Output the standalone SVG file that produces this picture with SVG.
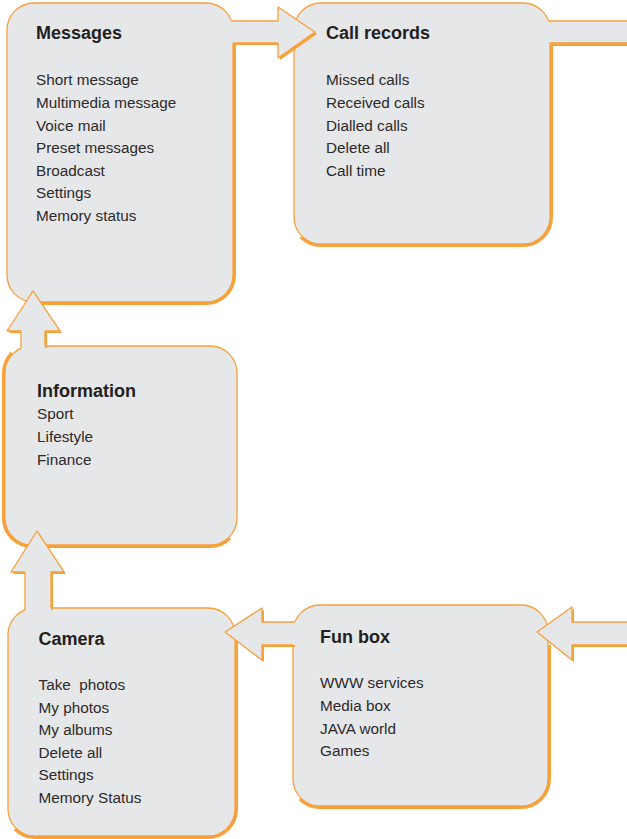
<svg xmlns="http://www.w3.org/2000/svg" width="627" height="839" viewBox="0 0 627 839">
<style>
.box{fill:#e6e7e8;stroke:#f7a13b;stroke-width:1.3}
.sh{fill:none;stroke:#f7a13b;stroke-width:3}
.af{fill:#e6e7e8}
.as{fill:#f7a13b}
.al{fill:none;stroke:#f7a13b;stroke-width:1.3;stroke-linejoin:round}
.t{font-family:"Liberation Sans",Arial,sans-serif;font-weight:bold;font-size:18px;fill:#231f20}
.i{font-family:"Liberation Sans",Arial,sans-serif;font-size:15.3px;fill:#2d2a2b;white-space:pre}
</style>
<rect width="627" height="839" fill="#ffffff"/>
<g id="messages">
<rect class="box" x="7" y="3" width="226" height="299" rx="27"/>
<path class="sh" d="M234.5,43 V275 A28.5,28.5 0 0 1 206,303.5 H34"/>
<text class="t" x="36" y="39.3">Messages</text>
<text class="i" x="36" y="85.3">Short message</text>
<text class="i" x="36" y="107.9">Multimedia message</text>
<text class="i" x="36" y="130.5">Voice mail</text>
<text class="i" x="36" y="153.1">Preset messages</text>
<text class="i" x="36" y="175.7">Broadcast</text>
<text class="i" x="36" y="198.3">Settings</text>
<text class="i" x="36" y="220.9">Memory status</text>
</g>
<g id="call-records">
<rect class="box" x="294" y="3" width="256" height="241" rx="27"/>
<path class="sh" d="M551.5,45 V217 A28.5,28.5 0 0 1 523,245.5 H321 A28.5,28.5 0 0 1 300.85,237.15"/>
<text class="t" x="326" y="39.3">Call records</text>
<text class="i" x="326" y="85.3">Missed calls</text>
<text class="i" x="326" y="107.9">Received calls</text>
<text class="i" x="326" y="130.5">Dialled calls</text>
<text class="i" x="326" y="153.1">Delete all</text>
<text class="i" x="326" y="175.7">Call time</text>
</g>
<g id="information">
<rect class="box" x="5" y="346" width="232" height="199" rx="27"/>
<path class="sh" d="M11.85,352.85 A28.5,28.5 0 0 0 3.5,373 V518 A28.5,28.5 0 0 0 32,546.5 H210 A28.5,28.5 0 0 0 230.15,538.15"/>
<text class="t" x="37" y="396.7">Information</text>
<text class="i" x="37" y="419.3">Sport</text>
<text class="i" x="37" y="441.9">Lifestyle</text>
<text class="i" x="37" y="464.5">Finance</text>
</g>
<g id="camera">
<rect class="box" x="8" y="608" width="227" height="228" rx="27"/>
<path class="sh" d="M236.5,635 V809 A28.5,28.5 0 0 1 208,837.5 H35 A28.5,28.5 0 0 1 14.85,829.15"/>
<text class="t" x="38.5" y="645">Camera</text>
<text class="i" x="38.5" y="690">Take  photos</text>
<text class="i" x="38.5" y="712.6">My photos</text>
<text class="i" x="38.5" y="735.2">My albums</text>
<text class="i" x="38.5" y="757.8">Delete all</text>
<text class="i" x="38.5" y="780.4">Settings</text>
<text class="i" x="38.5" y="803">Memory Status</text>
</g>
<g id="fun-box">
<rect class="box" x="293" y="605" width="255" height="201" rx="27"/>
<path class="sh" d="M549.5,645 V779 A28.5,28.5 0 0 1 521,807.5 H320 A28.5,28.5 0 0 1 299.85,799.15"/>
<text class="t" x="320" y="642.7">Fun box</text>
<text class="i" x="320" y="688.3">WWW services</text>
<text class="i" x="320" y="710.9">Media box</text>
<text class="i" x="320" y="733.5">JAVA world</text>
<text class="i" x="320" y="756.1">Games</text>
</g>
<g id="connectors">
<!-- Messages to Call records -->
<path class="as" transform="translate(2,2)" d="M233,21 H278 V7 L315,32 L278,58 V43 H233 Z"/>
<path class="af" d="M225,21 H278 V7 L315,32 L278,58 V43 H225 Z"/>
<path class="al" d="M231.5,21 H278 V7 L315,32 L278,58 V43 H233"/>
<!-- Call records to off-page -->
<path class="af" d="M544,21 H627 V43 H544 Z"/>
<path class="sh" d="M551,44.5 H627"/>
<path class="al" d="M548.5,21 H627 M550,43 H627"/>
<!-- Information to Messages -->
<path class="as" transform="translate(2,2)" d="M21,346 V331 H7 L33,291 L60,331 H45 V346 Z"/>
<path class="af" d="M21,352 V331 H7 L33,291 L60,331 H45 V352 Z"/>
<path class="al" d="M21,348.3 V331 H7 L33,291 L60,331 H45 V346"/>
<!-- Camera to Information -->
<path class="as" transform="translate(2,2)" d="M25,608 V572 H11 L37,531 L64,572 H51 V608 Z"/>
<path class="af" d="M25,614 V572 H11 L37,531 L64,572 H51 V614 Z"/>
<path class="al" d="M25,609.9 V572 H11 L37,531 L64,572 H51 V608"/>
<!-- Fun box to Camera -->
<path class="as" transform="translate(2,2)" d="M293,622 H262 V608 L225,632 L262,660 V645 H293 Z"/>
<path class="af" d="M299,622 H262 V608 L225,632 L262,660 V645 H299 Z"/>
<path class="al" d="M294.9,622 H262 V608 L225,632 L262,660 V645 H293"/>
<!-- Off-page to Fun box -->
<path class="as" transform="translate(2,2)" d="M627,622 H572 V607 L537,632 L572,660 V645 H627 Z"/>
<path class="af" d="M627,622 H572 V607 L537,632 L572,660 V645 H627 Z"/>
<path class="al" d="M627,622 H572 V607 L537,632 L572,660 V645 H627"/>
</g>
</svg>
